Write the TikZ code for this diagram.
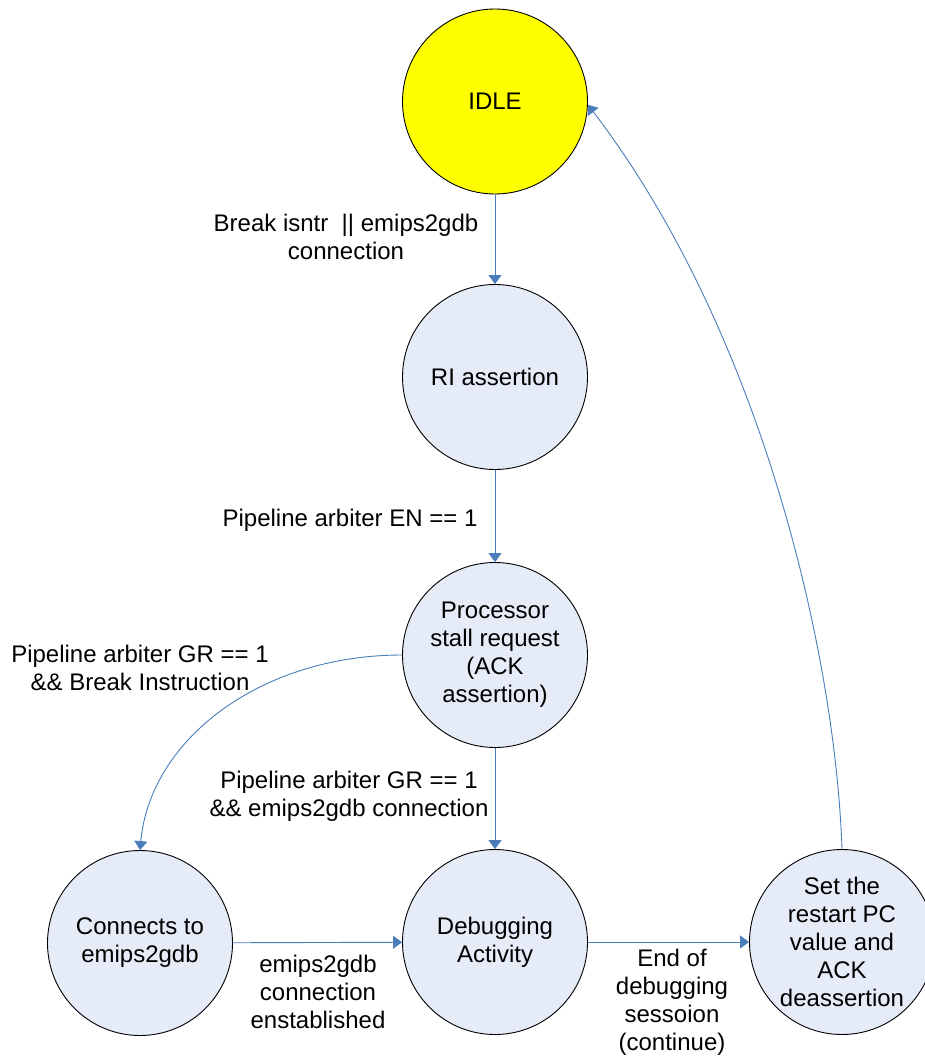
\documentclass[tikz,border=0pt]{standalone}
\usepackage{fontspec}
\setmainfont{Liberation Sans}
\usetikzlibrary{arrows.meta}
\definecolor{linkblue}{RGB}{74,126,187}
\definecolor{statefill}{RGB}{229,235,247}
\definecolor{idlefill}{RGB}{255,255,0}
\begin{document}
\begin{tikzpicture}[x=1pt,y=-1pt,
  every node/.style={font=\fontsize{24}{28}\selectfont},
  state/.style={circle,draw=black,line width=0.9pt,fill=statefill,
    minimum size=185pt,inner sep=0pt,align=center},
  idlestate/.style={state,fill=idlefill},
  link/.style={draw=linkblue,line width=0.9pt,
    -{Triangle[length=9pt,width=13pt]}},
  lbl/.style={align=center,inner sep=0pt}]
\useasboundingbox (0,0) rectangle (925,1062);
\fill[white] (0,0) rectangle (925,1062);

% states
\node[idlestate] (idle) at (495,101.5) {IDLE};
\node[state] (ri) at (495,377) {RI assertion};
\node[state] (proc) at (495,655) {Processor\\stall request\\(ACK\\assertion)};
\node[state] (conn) at (140,943) {Connects to\\emips2gdb};
\node[state] (dbg) at (495,942) {Debugging\\Activity};
\node[state] (rst) at (842,942) {Set the\\restart PC\\value and\\ACK\\deassertion};

% transitions
\draw[link] (idle) -- (ri);
\draw[link] (ri) -- (proc);
\draw[link] (proc) -- (dbg);
\draw[link] (conn) -- (dbg);
\draw[link] (dbg) -- (rst);
\draw[link] (proc.west) .. controls (260,655) and (150,740) .. (conn.north);
\draw[link] (rst.north) .. controls (835,650) and (760,330) .. (idle.-2);

% transition labels
\node[lbl] (l1) at (346,237) {Break isntr\ \ || emips2gdb\\connection};
\node[lbl] (l2) at (350,520) {Pipeline arbiter EN == 1};
\node[lbl] (l3) at (140,668) {Pipeline arbiter GR == 1\\\&\& Break Instruction};
\node[lbl] (l4) at (349,796) {Pipeline arbiter GR == 1\\\&\& emips2gdb connection};
\node[lbl] (l5) at (318,992) {emips2gdb\\connection\\enstablished};
\node[lbl] (l6) at (672,1002) {End of\\debugging\\sessoion\\(continue)};
\end{tikzpicture}
\end{document}
